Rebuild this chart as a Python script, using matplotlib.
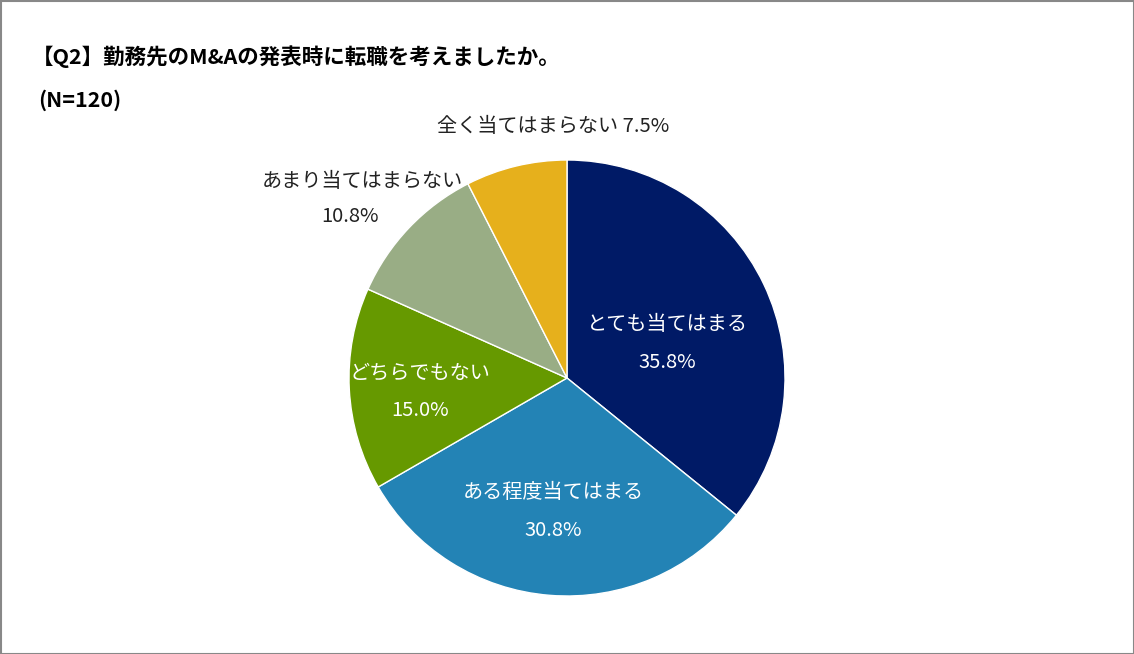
import matplotlib
matplotlib.use("Agg")
import matplotlib.pyplot as plt
from matplotlib.patches import Rectangle

categories = ["とても当てはまる", "ある程度当てはまる", "どちらでもない", "あまり当てはまらない", "全く当てはまらない"]
values = [35.8, 30.8, 15.0, 10.8, 7.5]
colors = ["#001A66", "#2383B5", "#669900", "#99AD85", "#E6B01C"]

W, H = 1134, 654
plt.rcParams["font.family"] = "Noto Sans CJK JP"
fig = plt.figure(figsize=(W/100, H/100), dpi=100)
fig.patches.append(Rectangle((0.5/W, 0.5/H), 1-1/W, 1-1/H, transform=fig.transFigure,
                             fill=False, edgecolor="#888888", linewidth=1.5))

cx, cy, r = 567, 378, 218
ax = fig.add_axes([(cx-r)/W, (H-cy-r)/H, 2*r/W, 2*r/H])
ax.pie(values, colors=colors, startangle=90, counterclock=False,
       wedgeprops=dict(edgecolor="white", linewidth=1))
ax.set_xlim(-1, 1)
ax.set_ylim(-1, 1)
ax.set_aspect("equal")
ax.axis("off")

def t(x, y, s, **kw):
    fig.text(x/W, 1-y/H, s, ha="center", va="center", fontsize=14.5, zorder=10, **kw)

t(667, 325, categories[0], color="white"); t(667, 362, f"{values[0]}%", color="white")
t(553, 493, categories[1], color="white"); t(553, 530, f"{values[1]}%", color="white")
t(420, 373, categories[2], color="white"); t(420, 410, f"{values[2]}%", color="white")
t(362, 181, categories[3], color="#222222"); t(350, 216, f"{values[3]}%", color="#222222")
t(553, 127, f"{categories[4]} {values[4]}%", color="#222222")

fig.text(32/W, 1-57/H, "【Q2】勤務先のM&Aの発表時に転職を考えましたか。", ha="left", va="center",
         fontsize=15.5, fontweight="bold")
fig.text(38/W, 1-100/H, "(N=120)", ha="left", va="center", fontsize=15.5, fontweight="bold")

fig.savefig("out.png", dpi=100)
